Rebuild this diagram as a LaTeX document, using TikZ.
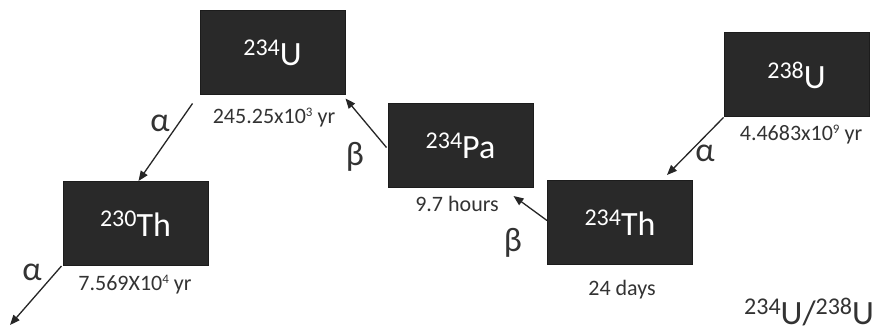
\documentclass[tikz,border=0pt]{standalone}
\usepackage{fontspec}
\setmainfont{Carlito}
\usetikzlibrary{arrows.meta}
\definecolor{boxfill}{HTML}{292929}
\definecolor{boxline}{HTML}{1C1C1C}
\definecolor{txt}{HTML}{333333}
\newcommand{\isotope}[2]{{\fontsize{24}{24}\selectfont\raisebox{10pt}{#1}}{\fontsize{34}{34}\selectfont #2}}
\newcommand{\supx}[1]{\raisebox{7pt}{\fontsize{13}{13}\selectfont #1}}
\tikzset{
  nuclide/.style={draw=boxline, line width=1pt, fill=boxfill, text=white,
    minimum width=145pt, minimum height=84pt, inner sep=0pt},
  halflife/.style={text=txt, font=\fontsize{22}{22}\selectfont, inner sep=0pt},
  decay/.style={text=txt, font=\fontsize{34}{34}\selectfont, inner sep=0pt},
  decayarrow/.style={draw=black!85, line width=1.3pt, -{Triangle[length=10pt,width=8pt]}}
}
\begin{document}
\begin{tikzpicture}[x=1pt,y=1pt]
\useasboundingbox (0,0) rectangle (888,-334);
\clip (0,0) rectangle (888,-334);
\fill[white] (0,0) rectangle (888,-334);
% boxes
\node[nuclide] (U234)  at (272.5,-53)   {\isotope{234}{U}};
\node[nuclide] (Th230) at (135.5,-223.5) {\isotope{230}{Th}};
\node[nuclide] (Pa234) at (460.5,-145.5) {\isotope{234}{Pa}};
\node[nuclide] (Th234) at (620,-222.5)  {\isotope{234}{Th}};
\node[nuclide] (U238)  at (796.5,-75)   {\isotope{238}{U}};
% half-lives
\node[halflife] (hU234)  at (274,-118) {245.25x10\supx{3} yr};
\node[halflife] (hTh230) at (135,-285) {7.569X10\supx{4} yr};
\node[halflife] (hPa234) at (457,-204) {9.7 hours};
\node[halflife] (hTh234) at (622,-290) {24 days};
\node[halflife] (hU238)  at (801,-135) {4.4683x10\supx{9} yr};
% ratio
\node[text=txt, anchor=base west, inner sep=0pt] (ratio) at (744,-324)
  {\isotope{234}{U}{\fontsize{34}{34}\selectfont /}\isotope{238}{U}};
% arrows
\coordinate (out) at (10,-325);
\draw[decayarrow] ([shift={(-7,-8)}]U234.south west) -- ([shift={(3,0)}]Th230.north);
\draw[decayarrow] ([shift={(-1,0)}]Th230.south west) -- (out);
\draw[decayarrow] ([shift={(-1,-2)}]Pa234.west) -- ([shift={(0,-3)}]U234.south east);
\draw[decayarrow] ([shift={(0,2)}]Th234.west) -- ([shift={(-20,-8)}]Pa234.south east);
\draw[decayarrow] (U238.south west) -- ([shift={(47,5)}]Th234.north);
% decay labels
\node[decay] (a1) at (160,-123) {α};
\node[decay] (a2) at (32,-272)  {α};
\node[decay] (b1) at (355,-157) {β};
\node[decay] (b2) at (513,-243) {β};
\node[decay] (a3) at (705,-153) {α};
\end{tikzpicture}
\end{document}
